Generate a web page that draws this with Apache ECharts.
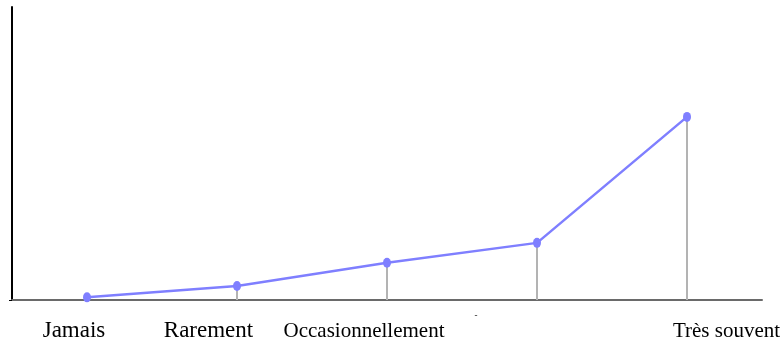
<!DOCTYPE html>
<html><head><meta charset="utf-8">
<script src="https://cdn.jsdelivr.net/npm/echarts@6/dist/echarts.min.js"></script>
<style>html,body{margin:0;padding:0;background:#fff}#c{width:784px;height:340px}</style>
</head><body><div id="c"></div>
<script>
const categories = ['Jamais', 'Rarement', 'Occasionnellement', '-', 'Très souvent'];
const values = [0.9, 4.8, 12.7, 19.5, 62.5];
const yMin = 0, yMax = 100;

const labelStyles = ['a', 'b', 'c', 'd', 'e'];
const chart = echarts.init(document.getElementById('c'), null, {renderer: 'canvas'});
chart.setOption({
  animation: false,
  backgroundColor: '#fff',
  grid: {left: 12, right: 22, top: 7, bottom: 40, containLabel: false, outerBoundsMode: 'none'},
  xAxis: {
    type: 'category',
    data: categories,
    boundaryGap: true,
    axisLine: {show: true, lineStyle: {color: '#6a6a6a', width: 2}},
    axisTick: {show: false},
    axisLabel: {
      interval: 0,
      margin: 16,
      formatter: function (v, i) { return '{' + labelStyles[i] + '|' + v + '}'; },
      rich: {
        a: {fontFamily: 'Liberation Serif', fontSize: 23, color: '#000', lineHeight: 30, padding: [0, 26, 0, 0]},
        b: {fontFamily: 'Liberation Serif', fontSize: 23, color: '#000', lineHeight: 30, padding: [0, 57, 0, 0]},
        c: {fontFamily: 'Liberation Serif', fontSize: 21, color: '#000', lineHeight: 30, padding: [0, 46, 0, 0]},
        d: {fontFamily: 'Liberation Serif', fontSize: 9, color: '#000', lineHeight: 30, padding: [0, 122, 30, 0]},
        e: {fontFamily: 'Liberation Serif', fontSize: 21, color: '#000', lineHeight: 30, padding: [0, 0, 0, 79]}
      }
    },
    splitLine: {show: false}
  },
  yAxis: {
    type: 'value',
    min: yMin, max: yMax, interval: 100,
    axisLine: {show: true, lineStyle: {color: '#000', width: 2}},
    axisTick: {show: true, length: 3, lineStyle: {color: '#000', width: 1}, customValues: [0]},
    axisLabel: {show: false},
    splitLine: {show: false}
  },
  series: [
    {
      type: 'bar',
      data: values,
      barWidth: 2,
      itemStyle: {color: '#b3b3b3'},
      silent: true,
      z: 1
    },
    {
      type: 'line',
      data: values,
      symbol: 'circle',
      symbolSize: [8, 10],
      showSymbol: true,
      lineStyle: {color: '#7f7fff', width: 2.5},
      itemStyle: {color: '#7f7fff'},
      z: 3
    }
  ]
});
</script></body></html>
